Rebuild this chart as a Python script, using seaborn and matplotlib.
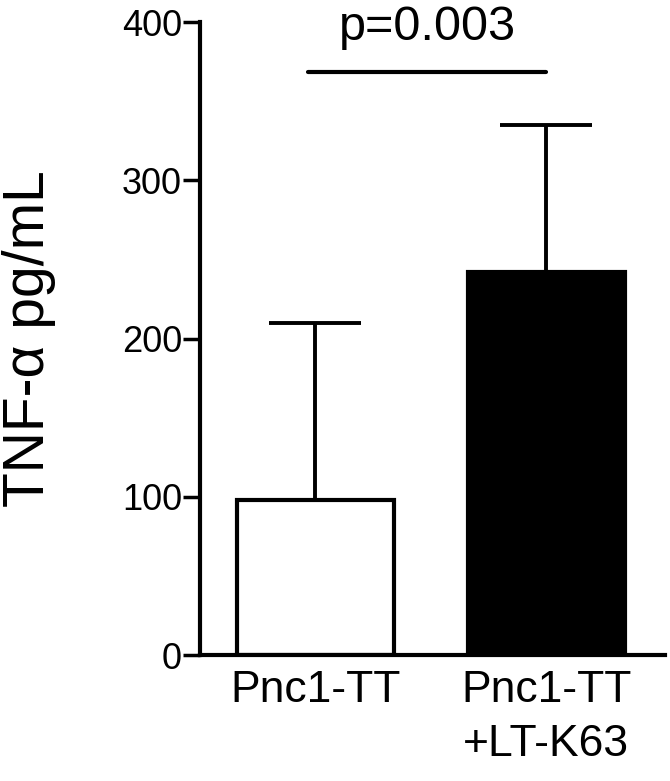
import numpy as np
import pandas as pd
import matplotlib
matplotlib.use("Agg")
import matplotlib.pyplot as plt
import seaborn as sns

# Данные
groups = ["Pnc1-TT", "Pnc1-TT\n+LT-K63"]
means = [98, 242]
sds = [112, 93]
bar_colors = ["white", "black"]
p_text = "p=0.003"

sns.set_style("ticks", {"axes.edgecolor": "black", "text.color": "black",
                        "axes.labelcolor": "black", "xtick.color": "black",
                        "ytick.color": "black"})
plt.rcParams["font.family"] = ["Liberation Sans", "DejaVu Sans"]

df = pd.DataFrame({"group": groups, "tnf": means})

fig = plt.figure(figsize=(6.7, 7.81), dpi=100)
ax = fig.add_axes([0.2985, 0.1613, 0.694, 0.8105])

sns.barplot(data=df, x="group", y="tnf", hue="group", palette=bar_colors,
            edgecolor="black", linewidth=3, width=0.68, legend=False, ax=ax)

# только верхние усы
ax.errorbar(np.arange(len(means)), means, yerr=[np.zeros(len(sds)), sds],
            fmt="none", ecolor="black", elinewidth=2.8, capsize=33,
            capthick=2.8, zorder=1)

# линия значимости
top = max(m + s for m, s in zip(means, sds))
y_line = top * 1.1
ax.plot([-0.03, 1.0], [y_line, y_line], color="black", lw=3,
        solid_capstyle="round")
ax.text(0.485, y_line + 14, p_text, ha="center", va="bottom", fontsize=35)

ax.set_xlim(-0.5, 1.515)
ax.set_ylim(0, 400)
ax.set_yticks([0, 100, 200, 300, 400])
ax.set_xlabel("")
ax.set_ylabel("TNF-\u03b1 pg/mL", fontsize=41, labelpad=47)

sns.despine(ax=ax)
for s in ["left", "bottom"]:
    ax.spines[s].set_linewidth(3)
ax.tick_params(axis="y", length=12, width=2.5, labelsize=26, pad=1)
ax.tick_params(axis="x", length=0, labelsize=32, pad=11)
for lab in ax.get_xticklabels():
    lab.set_linespacing(1.4)

fig.savefig("out.png", dpi=100)
